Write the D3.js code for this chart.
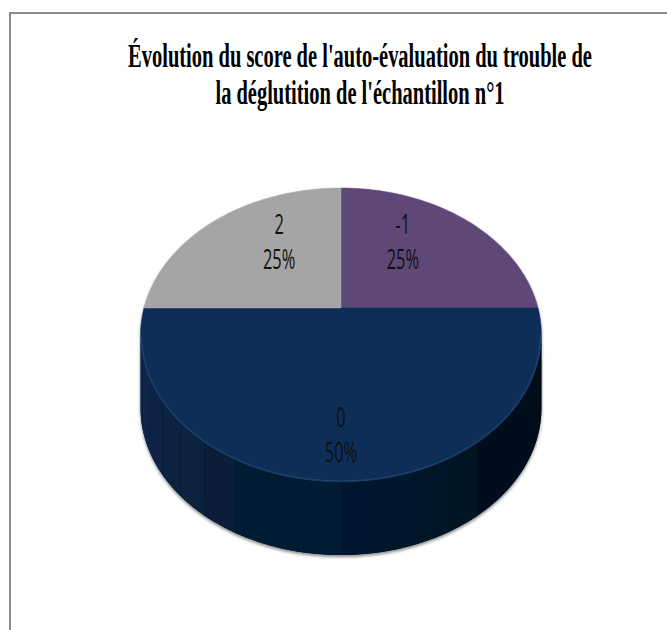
<!DOCTYPE html>
<html>
<head>
<meta charset="utf-8">
<script src="https://cdn.jsdelivr.net/npm/d3@7"></script>
<style>
  html, body { margin: 0; padding: 0; background: #fff; }
  svg { display: block; }
</style>
</head>
<body>
<div id="chart"></div>
<script>
// data of the chart
const categories = ["-1", "0", "2"];
const values = [1, 2, 1];
const sliceColors = ["#5f4678", "#0a2e57", "#a5a5a5"];
const titleLines = [
    "Évolution du score de l'auto-évaluation du trouble de",
    "la déglutition de l'échantillon n°1"
];

const width = 667, height = 630;

const svg = d3.select("#chart")
    .append("svg")
    .attr("width", width)
    .attr("height", height);

// border of the chart area (right and bottom fall outside the window)
svg.append("line")
    .attr("x1", 10).attr("x2", width).attr("y1", 13).attr("y2", 13)
    .attr("stroke", "#8c8c8c").attr("stroke-width", 2);
svg.append("line")
    .attr("x1", 10).attr("x2", 10).attr("y1", 12).attr("y2", height)
    .attr("stroke", "#8c8c8c").attr("stroke-width", 2);

// title, condensed to the width seen in the picture
const title = svg.append("g");
titleLines.forEach(function (t, i) {
    title.append("text")
        .attr("x", 360)
        .attr("y", 67 + i * 37)
        .attr("text-anchor", "middle")
        .attr("font-family", "'Liberation Serif', 'Times New Roman', serif")
        .attr("font-weight", "bold")
        .attr("font-size", 33)
        .attr("fill", "#000")
        .text(t);
});
// squeeze both lines by the same factor
const natural = title.select("text").node().getComputedTextLength();
const sx = 464 / natural;
title.selectAll("text").each(function () {
    const el = d3.select(this);
    const x = +el.attr("x"), y = +el.attr("y");
    el.attr("x", 0).attr("y", 0)
        .attr("transform", `translate(${x},${y}) scale(${sx},1)`);
});

// 3D pie geometry: perspective top face, side extruded straight down
const cx = 341, cy = 308;
const R = 197;              // radius
const depth = 73;           // visible thickness on screen
const phi = Math.asin(0.721);
const sinP = Math.sin(phi), cosP = Math.cos(phi);
const D = 743;              // camera distance

function project(theta, r) {
    const X = r * Math.sin(theta);
    const Z = -r * Math.cos(theta);
    const d = D - Z * cosP;
    return [cx + X * D / d, cy + Z * sinP * D / d];
}

const pie = d3.pie().sort(null).value(d => d.value);
const arcs = pie(categories.map((c, i) => ({ cat: c, value: values[i], color: sliceColors[i] })));
const total = d3.sum(values);

const defs = svg.append("defs");
const filt = defs.append("filter").attr("id", "shadow")
    .attr("x", "-10%").attr("y", "-10%").attr("width", "120%").attr("height", "130%");
filt.append("feDropShadow")
    .attr("dx", 0).attr("dy", 2).attr("stdDeviation", 1.6)
    .attr("flood-color", "#000").attr("flood-opacity", 0.45);

const pieG = svg.append("g").attr("filter", "url(#shadow)");
const line = d3.line();

function sidePath(t0, t1, n) {
    const top = [];
    for (let k = 0; k <= n; k++) top.push(project(t0 + (t1 - t0) * k / n, R));
    const bottom = top.slice().reverse().map(p => [p[0], p[1] + depth]);
    return line(top.concat(bottom)) + "Z";
}

// side wall, cut in bands (only the front half is visible)
const step = Math.PI / 20;
const edge = Math.acos(-R * cosP / D);            // widest points of the outline
const darkScale = d3.scaleLinear()
    .domain([edge, Math.PI, 2 * Math.PI - edge])
    .range([4, 1.7, 0.35])
    .clamp(true);
let strips = [];
arcs.forEach(function (a) {
    const n = Math.max(1, Math.ceil((a.endAngle - a.startAngle) / step));
    const dt = (a.endAngle - a.startAngle) / n;
    for (let k = 0; k < n; k++) {
        const t0 = Math.max(a.startAngle + k * dt, edge);
        const t1 = Math.min(a.startAngle + (k + 1) * dt, 2 * Math.PI - edge);
        if (t1 > t0) strips.push({ t0: t0, t1: t1, mid: (t0 + t1) / 2, color: a.data.color });
    }
});
// a base under the bands hides the seams between them
pieG.append("path")
    .attr("d", sidePath(edge, 2 * Math.PI - edge, 120))
    .attr("fill", d3.color(sliceColors[1]).darker(1.7));
pieG.selectAll("path.side")
    .data(strips)
    .enter()
    .append("path")
    .attr("class", "side")
    .attr("d", s => sidePath(s.t0, s.t1, 8))
    .attr("fill", s => d3.color(s.color).darker(darkScale(s.mid)));

// top face, one path per slice
pieG.selectAll("path.top")
    .data(arcs)
    .enter()
    .append("path")
    .attr("class", "top")
    .attr("d", function (a) {
        const pts = [project(0, 0)];
        const n = 90;
        for (let k = 0; k <= n; k++) {
            pts.push(project(a.startAngle + (a.endAngle - a.startAngle) * k / n, R));
        }
        return line(pts) + "Z";
    })
    .attr("fill", a => a.data.color)
    .attr("stroke", a => a.data.color)
    .attr("stroke-width", 0.5);

// faint light rim on the front edge of the top face
const rim = [];
for (let t = edge; t <= 2 * Math.PI - edge; t += Math.PI / 90) rim.push(project(t, R - 1));
svg.append("path")
    .attr("d", line(rim))
    .attr("fill", "none")
    .attr("stroke", "#3a6496")
    .attr("stroke-opacity", 0.45)
    .attr("stroke-width", 1);

// data labels
const labelG = svg.append("g");
arcs.forEach(function (a) {
    const mid = (a.startAngle + a.endAngle) / 2;
    const p = project(mid, R * 0.75);
    const lx = cx + (p[0] - cx) * 0.65;
    const ly = p[1];
    const lines = [a.data.cat, Math.round(a.value / total * 100) + "%"];
    lines.forEach(function (t, i) {
        labelG.append("text")
            .attr("transform", `translate(${lx},${ly + (i === 0 ? -5 : 30)}) scale(0.62,1)`)
            .attr("text-anchor", "middle")
            .attr("font-family", "'Open Sans', sans-serif")
            .attr("font-size", 26.5)
            .attr("fill", "#111")
            .text(t);
    });
});
</script>
</body>
</html>
